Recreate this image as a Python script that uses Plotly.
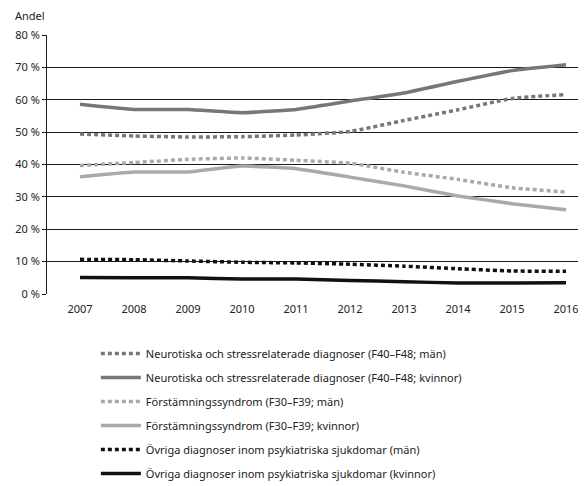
import plotly.graph_objects as go

years = [2007, 2008, 2009, 2010, 2011, 2012, 2013, 2014, 2015, 2016]
neuro_man = [49.4, 48.8, 48.5, 48.6, 49.1, 50.2, 53.6, 56.9, 60.4, 61.6]
neuro_kvinnor = [58.6, 57.0, 57.0, 56.0, 57.0, 59.6, 62.1, 65.7, 69.0, 70.8]
forst_man = [39.7, 40.6, 41.6, 42.0, 41.3, 40.4, 37.6, 35.4, 32.8, 31.5]
forst_kvinnor = [36.2, 37.7, 37.7, 39.5, 38.7, 36.1, 33.4, 30.3, 27.9, 26.0]
ovr_man = [10.7, 10.6, 10.2, 9.8, 9.6, 9.2, 8.6, 7.8, 7.1, 7.0]
ovr_kvinnor = [5.1, 5.0, 5.0, 4.6, 4.6, 4.2, 3.8, 3.4, 3.4, 3.5]

names = [
    "Neurotiska och stressrelaterade diagnoser (F40–F48; män)",
    "Neurotiska och stressrelaterade diagnoser (F40–F48; kvinnor)",
    "Förstämningssyndrom (F30–F39; män)",
    "Förstämningssyndrom (F30–F39; kvinnor)",
    "Övriga diagnoser inom psykiatriska sjukdomar (män)",
    "Övriga diagnoser inom psykiatriska sjukdomar (kvinnor)",
]
yticks = [0, 10, 20, 30, 40, 50, 60, 70, 80]
ytick_labels = ["0 %", "10 %", "20 %", "30 %", "40 %", "50 %", "60 %", "70 %", "80 %"]

series = [neuro_man, neuro_kvinnor, forst_man, forst_kvinnor, ovr_man, ovr_kvinnor]
colors = ["#777777", "#777777", "#a9a9a9", "#a9a9a9", "#111111", "#111111"]
dashes = ["4px,3px", "solid", "4px,3px", "solid", "4px,3px", "solid"]

fig = go.Figure()
for i, (vals, nm, c, d) in enumerate(zip(series, names, colors, dashes)):
    fig.add_trace(go.Scatter(
        x=years, y=vals, name=nm, mode="lines",
        line=dict(color=c, width=3.5, dash=d, shape="spline", smoothing=0.4),
        legendgroup=f"g{i}",
    ))

font = "Noto Sans, Liberation Sans, sans-serif"
fig.update_layout(
    width=578, height=478,
    margin=dict(l=39, r=0, t=27, b=192, autoexpand=False),
    paper_bgcolor="white", plot_bgcolor="white",
    font=dict(family=font, size=11, color="#222222"),
    showlegend=True,
    legend=dict(
        x=0.152, xref="container", y=0.3075, yref="container",
        xanchor="left", yanchor="top",
        traceorder="grouped", tracegroupgap=5, itemwidth=40,
        font=dict(size=11, color="#222222"),
        bgcolor="rgba(0,0,0,0)",
    ),
    xaxis=dict(
        range=[2006.389, 2016.37], tickmode="array", tickvals=years,
        ticktext=[str(y) for y in years], showgrid=False, zeroline=False,
        showline=False, ticks="", tickfont=dict(size=11), ticklabelstandoff=7,
    ),
    yaxis=dict(
        range=[0, 80], tickmode="array", tickvals=yticks, ticktext=ytick_labels,
        showgrid=True, gridcolor="#1a1a1a", gridwidth=1, zeroline=False,
        showline=True, linecolor="#1a1a1a", linewidth=1,
        ticks="outside", ticklen=4, tickcolor="#1a1a1a", tickfont=dict(size=11),
    ),
    annotations=[dict(
        text="Andel", xref="paper", yref="paper", x=-0.063, y=1.075,
        xanchor="left", yanchor="middle", showarrow=False, font=dict(size=11),
    )],
)
fig.write_html("out.html")
